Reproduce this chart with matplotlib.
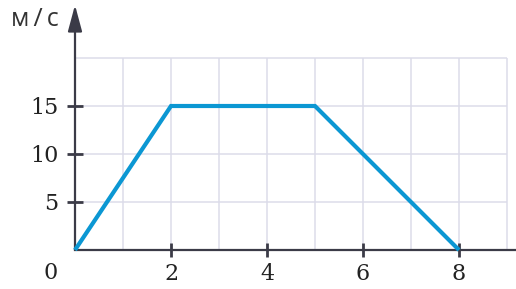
import matplotlib
matplotlib.use("Agg")
import matplotlib.pyplot as plt

# speed vs time
t = [0, 2, 5, 8]
v = [0, 15, 15, 0]
xticks = [2, 4, 6, 8]
yticks = [5, 10, 15]
x_grid = [1, 2, 3, 4, 5, 6, 7, 8, 9]
y_grid = [5, 10, 15, 20]

axis_col = "#3b3b47"
grid_col = "#dcdce9"
line_col = "#0b97d3"

W, H = 516, 289
fig = plt.figure(figsize=(W / 100, H / 100), dpi=100)
x0, y0 = 75, 39          # origin in pixels (from left / bottom)
px_x, px_y = 48, 9.6     # pixels per unit
ax = fig.add_axes([x0 / W, y0 / H, (W - x0) / W, (H - y0) / H])
ax.set_xlim(0, (W - x0) / px_x)
ax.set_ylim(0, (H - y0) / px_y)
ax.patch.set_alpha(0)

for s in ["top", "right", "left"]:
    ax.spines[s].set_visible(False)
ax.spines["bottom"].set_color(axis_col)
ax.spines["bottom"].set_linewidth(1.6)

# grid
ax.vlines(x_grid, 0, max(y_grid), color=grid_col, lw=1.1, zorder=0)
ax.hlines(y_grid, 0, max(x_grid), color=grid_col, lw=1.1, zorder=0)

# y axis with arrow
ax.annotate("", xy=(0, (H - y0 - 5) / px_y), xytext=(0, 0),
            arrowprops=dict(arrowstyle="-|>,head_length=16,head_width=4.3",
                            mutation_scale=1, color=axis_col, lw=1.6,
                            shrinkA=0, shrinkB=0),
            annotation_clip=False)

ax.plot(t, v, color=line_col, lw=3.0, solid_capstyle="butt",
        solid_joinstyle="miter", zorder=3, clip_on=False)

ax.set_xticks(xticks)
ax.set_yticks(yticks)
ax.tick_params(axis="x", direction="inout", length=10.5, width=2, color=axis_col, pad=4,
               labelsize=16, labelcolor="#222222")
ax.tick_params(axis="y", direction="inout", length=11.5, width=2, color=axis_col, pad=6,
               labelsize=16, labelcolor="#222222")
for lab in ax.get_xticklabels() + ax.get_yticklabels():
    lab.set_fontfamily("DejaVu Serif")

ax.text(-0.35, -2.35, "0", fontsize=16, family="DejaVu Serif", color="#222222",
        ha="right", va="center", clip_on=False)
fig.text(11 / W, 1 - 19 / H, "м\u2009/\u2009с", fontsize=18,
         family=["Open Sans", "DejaVu Sans"], color="#333333",
         ha="left", va="center")
ax.text(9.17, 2.1, "t", fontsize=12, family="DejaVu Serif", style="italic",
        color="#555555", ha="left", va="center", clip_on=False)

fig.savefig("out.png", dpi=100)
